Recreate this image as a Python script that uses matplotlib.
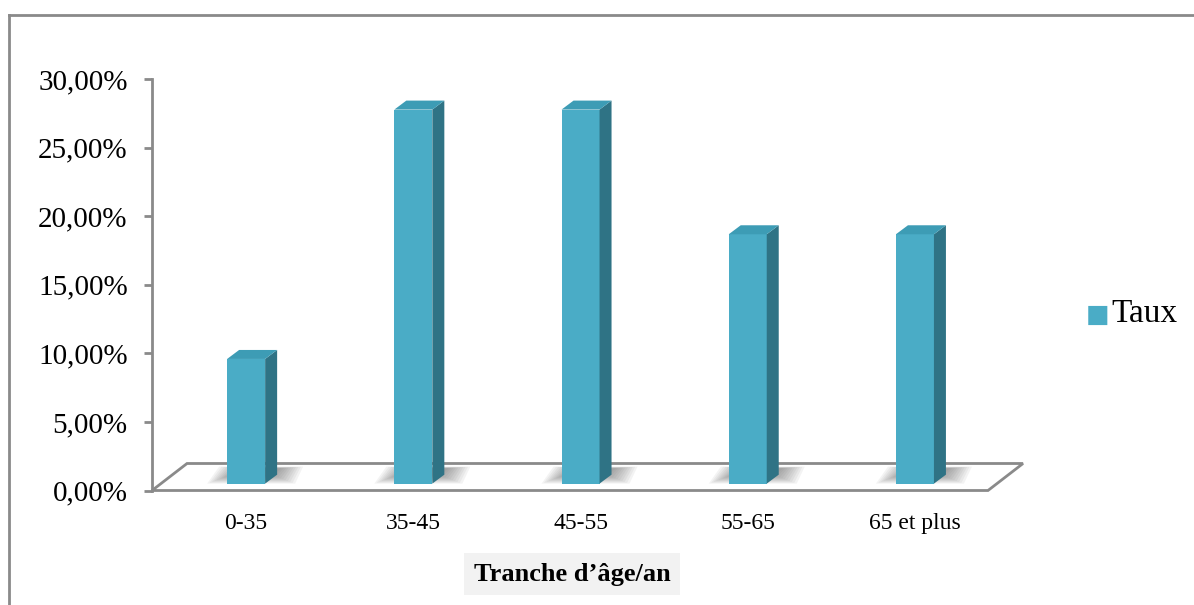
import numpy as np
import matplotlib
matplotlib.use("Agg")
import matplotlib.pyplot as plt
from matplotlib.patches import Polygon, Rectangle
from matplotlib.lines import Line2D

categories = ["0-35", "35-45", "45-55", "55-65", "65 et plus"]
taux = [9.09, 27.27, 27.27, 18.18, 18.18]
yticks = [0, 5, 10, 15, 20, 25, 30]
ytick_labels = ["0,00%", "5,00%", "10,00%", "15,00%", "20,00%", "25,00%", "30,00%"]

front_col = "#4aacc6"
side_col = "#2f7385"
top_col = "#3d9cb5"
grey = "#8a8a8a"

plt.rcParams["font.family"] = ["Liberation Serif", "DejaVu Serif"]

fig = plt.figure(figsize=(11.94, 6.05), dpi=100)
W, H = 1194, 605

# figure frame (only left and top show)
fig.add_artist(Line2D([8.5 / W, 8.5 / W], [0, 1 - 15 / H], transform=fig.transFigure, color=grey, lw=2))
fig.add_artist(Line2D([8.5 / W, 1], [1 - 15 / H, 1 - 15 / H], transform=fig.transFigure, color=grey, lw=2))

left, right, top, bottom = 152, 988, 79, 490.5
ax = fig.add_axes([left / W, 1 - bottom / H, (right - left) / W, (bottom - top) / H])
ax.set_xlim(-0.563, 4.437)
ax.set_ylim(0, 30)
for s in ["top", "right", "bottom"]:
    ax.spines[s].set_visible(False)
ax.spines["left"].set_color(grey)
ax.spines["left"].set_linewidth(2)
ax.set_yticks(yticks)
ax.set_yticklabels(ytick_labels, fontsize=21)
ax.tick_params(axis="y", direction="out", length=5.5, width=2, color=grey, pad=12)
ax.set_xticks(range(len(categories)))
ax.set_xticklabels(categories, fontsize=17)
ax.tick_params(axis="x", length=0, pad=16)

# pixel -> data scale
px_x = 5.0 / (right - left)
px_y = 30.0 / (bottom - top)

# floor
x0, x1 = -0.563, 4.437
ddx, ddy = 35 * px_x, 27 * px_y
floor = Polygon([(x0, 0), (x1, 0), (x1 + ddx, ddy), (x0 + ddx, ddy)], closed=True,
                facecolor="white", edgecolor=grey, lw=2, clip_on=False, zorder=1)
ax.add_patch(floor)

base = 0.5
bw = 38 * px_x
sdx, sdy = 12 * px_x, 9 * px_y
for i, v in enumerate(taux):
    xl = i - bw / 2
    # soft shadow cast around the bar foot
    for k in range(10):
        g = k * px_x * 2.4
        h = k * px_y * 0.9
        ax.add_patch(Polygon([(xl - 20 * px_x + g, base + h),
                              (xl + bw + 30 * px_x - g, base + h),
                              (xl + bw + 38 * px_x - g, base + 17 * px_y - h * 0.2),
                              (xl - 8 * px_x + g, base + 17 * px_y - h * 0.2)],
                             closed=True, facecolor="#505050", alpha=0.065, lw=0,
                             zorder=2, clip_on=False))
    top_y = base + v
    ax.add_patch(Rectangle((xl, base), bw, v, facecolor=front_col, edgecolor="none", zorder=4))
    ax.add_patch(Polygon([(xl + bw, base), (xl + bw + sdx, base + sdy),
                          (xl + bw + sdx, top_y + sdy), (xl + bw, top_y)],
                         closed=True, facecolor=side_col, edgecolor="none", zorder=4))
    ax.add_patch(Polygon([(xl, top_y), (xl + bw, top_y),
                          (xl + bw + sdx, top_y + sdy), (xl + sdx, top_y + sdy)],
                         closed=True, facecolor=top_col, edgecolor="none", zorder=4))

# legend
fig.text(1098 / W, 1 - 315 / H, "\u25A0", color=front_col, fontsize=18,
         ha="center", va="center", family="DejaVu Sans")
fig.text(1111 / W, 1 - 314 / H, "Taux", fontsize=24, ha="left", va="center")

# axis title in a light box
fig.text(572 / W, 1 - 574 / H, "Tranche d\u2019\u00e2ge/an", fontsize=19, fontweight="bold",
         ha="center", va="center",
         bbox=dict(facecolor="#f2f2f2", edgecolor="none", pad=7))

fig.savefig("out.png", dpi=100)
